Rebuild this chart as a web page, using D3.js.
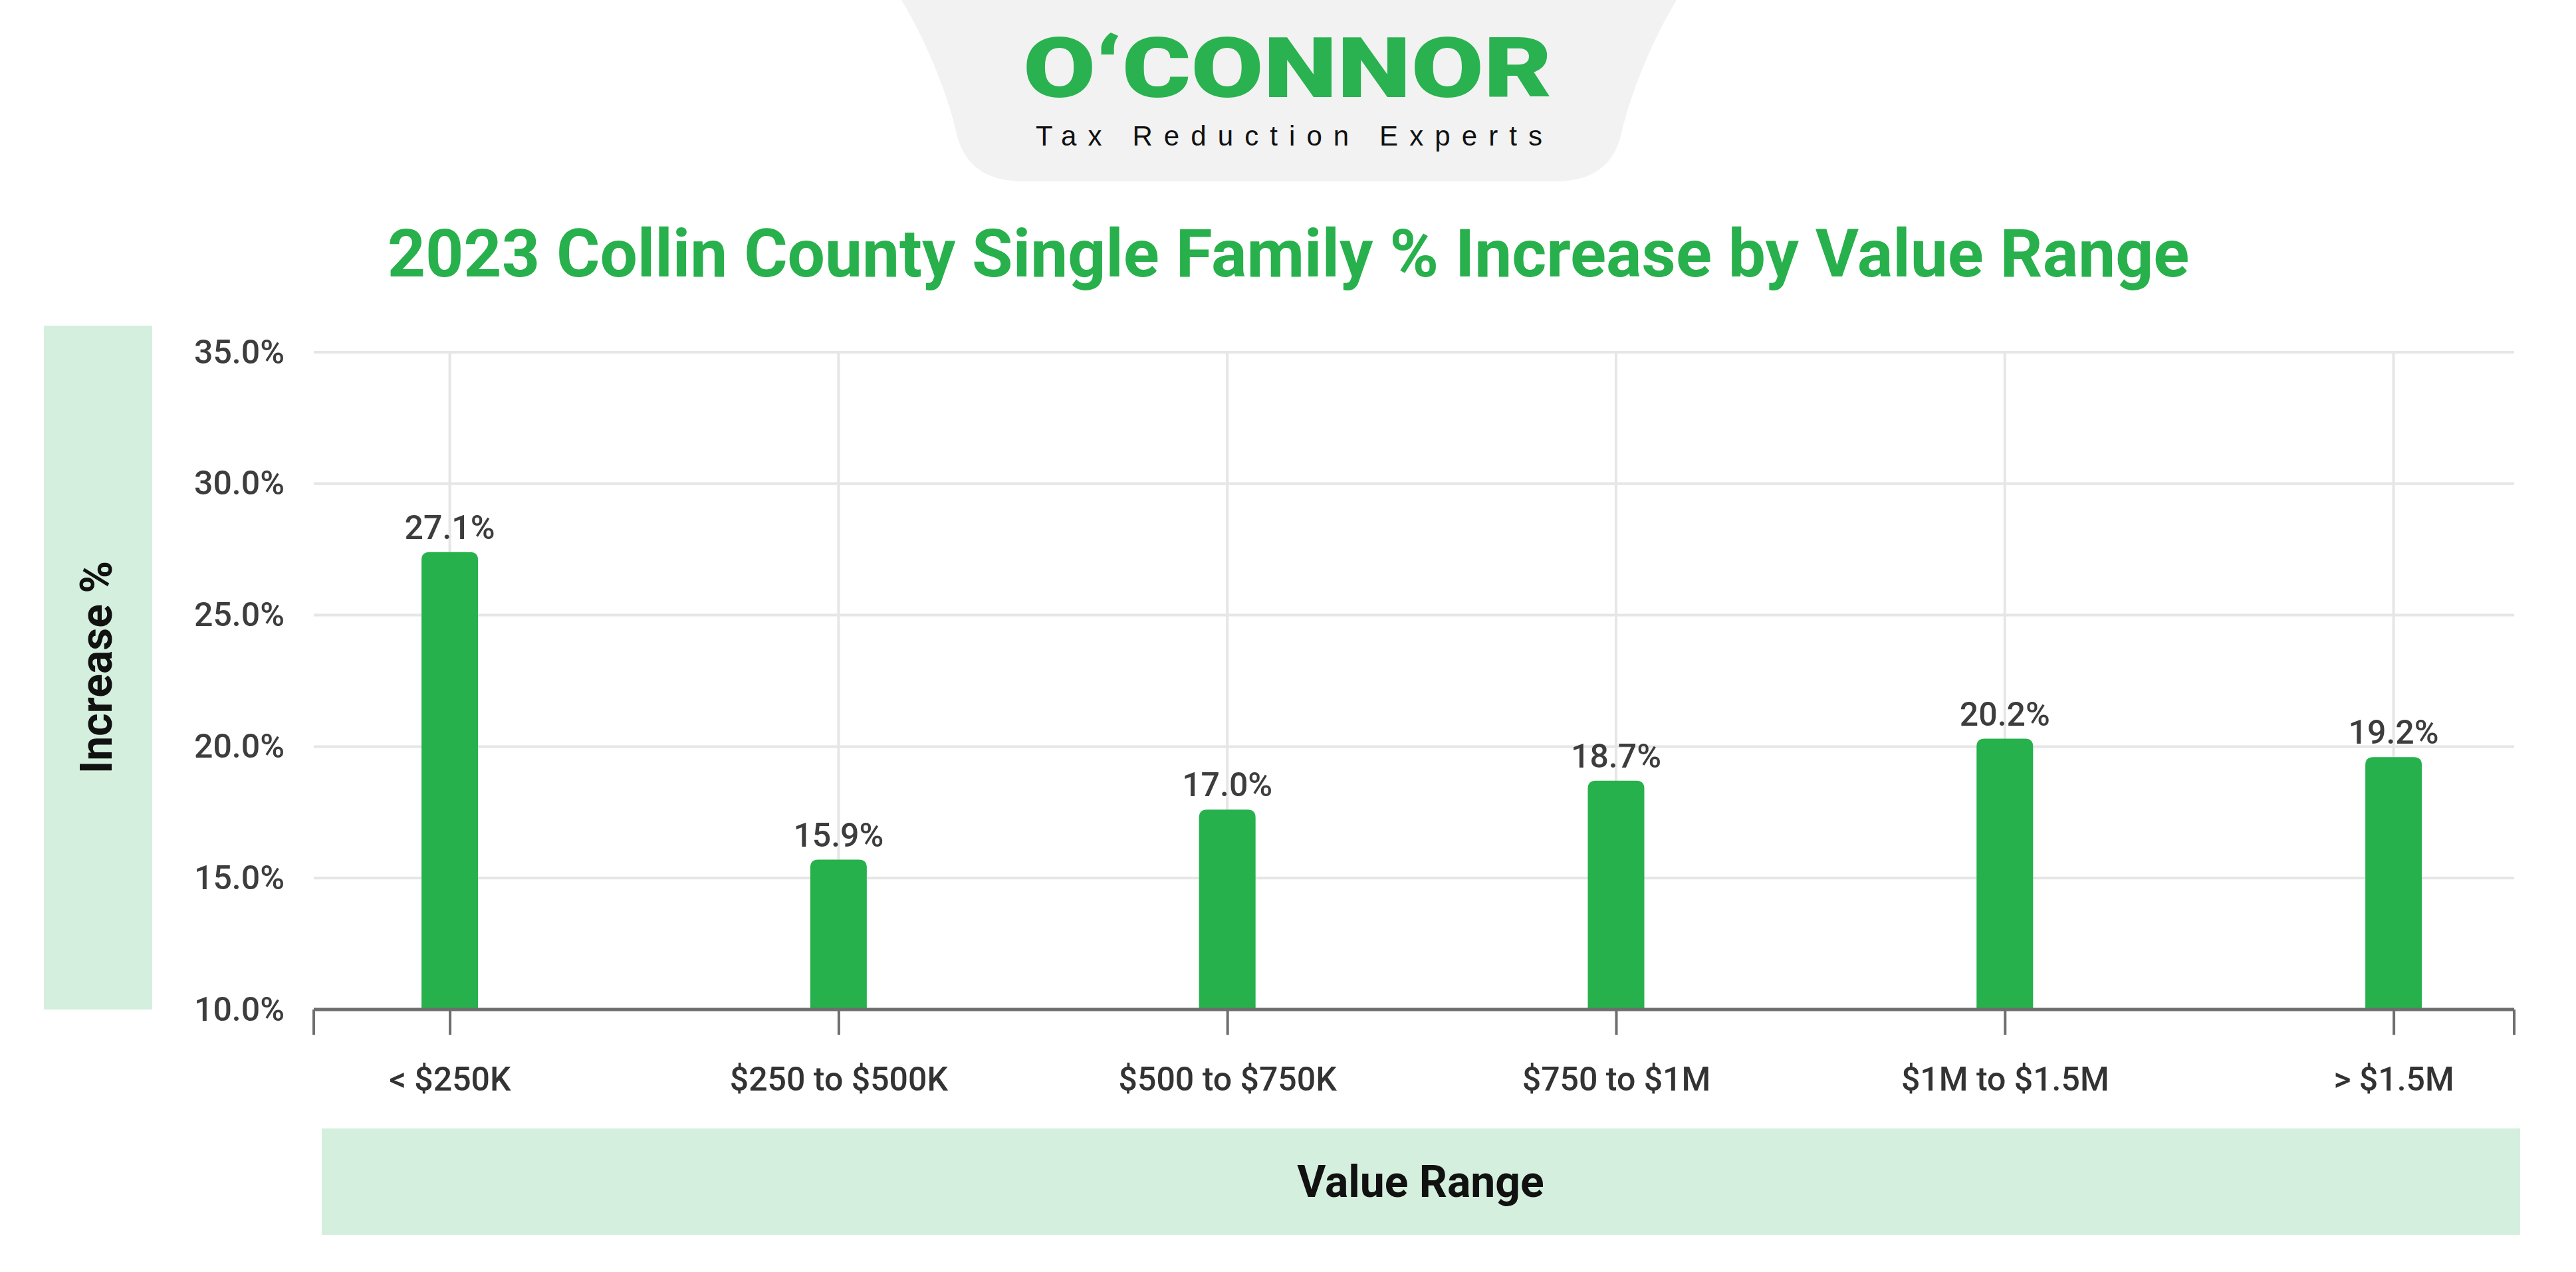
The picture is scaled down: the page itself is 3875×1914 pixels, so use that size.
<!DOCTYPE html>
<html>
<head>
<meta charset="utf-8">
<script src="https://cdn.jsdelivr.net/npm/d3@7/dist/d3.min.js"></script>
<style>
  html, body { margin: 0; padding: 0; background: #ffffff; }
  svg { display: block; }
</style>
</head>
<body>
<svg id="chart" width="3875" height="1914"></svg>
<script>
// ---- data ----
const categories = ["< $250K", "$250 to $500K", "$500 to $750K", "$750 to $1M", "$1M to $1.5M", "> $1.5M"];
const values = [27.4, 15.7, 17.6, 18.7, 20.3, 19.6];          // bar heights as drawn
const valueLabels = ["27.1%", "15.9%", "17.0%", "18.7%", "20.2%", "19.2%"]; // labels as printed
const yTicks = [10, 15, 20, 25, 30, 35];
const titleText = "2023 Collin County Single Family % Increase by Value Range";
const xAxisTitle = "Value Range";
const yAxisTitle = "Increase %";

// ---- layout ----
const W = 3875, H = 1914;
const plot = { left: 472, right: 3782, top: 530, bottom: 1519 };
const green = "#26b14c";
const lightGreen = "#d4efdd";
const gridColor = "#e6e6e6";
const axisColor = "#6e6e6e";
const textGray = "#3d3d3d";
const font = "Roboto, 'Noto Sans', sans-serif";

const svg = d3.select("#chart").attr("viewBox", `0 0 ${W} ${H}`);
svg.append("rect").attr("width", W).attr("height", H).attr("fill", "#fff");

// ---- logo header ----
svg.append("path")
  .attr("d", "M1356,0 C1398,70 1428,150 1440,205 Q1458,273 1540,273 L2340,273 Q2420,273 2438,205 C2450,150 2480,70 2522,0 Z")
  .attr("fill", "#f2f2f2");
svg.append("text")
  .attr("x", 1539).attr("y", 146)
  .attr("textLength", 796).attr("lengthAdjust", "spacingAndGlyphs")
  .attr("font-family", font).attr("font-weight", 900).attr("font-size", 126)
  .attr("fill", "#29b24f")
  .text("O\u2018CONNOR");
svg.append("text")
  .attr("x", 1558).attr("y", 219)
  .attr("textLength", 762).attr("lengthAdjust", "spacing")
  .attr("font-family", "'Liberation Sans', Arial, sans-serif").attr("font-size", 42)
  .attr("fill", "#111")
  .text("Tax Reduction Experts");

// ---- title ----
svg.append("text")
  .attr("x", 1938).attr("y", 416)
  .attr("text-anchor", "middle")
  .attr("font-family", font).attr("font-weight", 700).attr("font-size", 100)
  .attr("fill", "#27b04c")
  .text(titleText);

// ---- scales ----
const x = d3.scalePoint().domain(categories).range([plot.left, plot.right]).padding(0.33).align(0.53);
const y = d3.scaleLinear().domain([10, 35]).range([plot.bottom, plot.top]);

// ---- axis title boxes ----
svg.append("rect").attr("x", 66).attr("y", 490).attr("width", 163).attr("height", 1029).attr("fill", lightGreen);
svg.append("text")
  .attr("transform", `translate(145,1004) rotate(-90)`)
  .attr("text-anchor", "middle").attr("dominant-baseline", "central")
  .attr("font-family", font).attr("font-weight", 700).attr("font-size", 66)
  .attr("fill", "#111")
  .text(yAxisTitle);

svg.append("rect").attr("x", 484).attr("y", 1698).attr("width", 3307).attr("height", 160).attr("fill", lightGreen);
svg.append("text")
  .attr("x", 2137).attr("y", 1778)
  .attr("text-anchor", "middle").attr("dominant-baseline", "central")
  .attr("font-family", font).attr("font-weight", 700).attr("font-size", 66)
  .attr("fill", "#111")
  .text(xAxisTitle);

// ---- grid ----
const grid = svg.append("g");
grid.selectAll("line.h").data(yTicks.filter(d => d > 10)).join("line")
  .attr("x1", plot.left).attr("x2", plot.right)
  .attr("y1", d => y(d)).attr("y2", d => y(d))
  .attr("stroke", gridColor).attr("stroke-width", 4);
grid.selectAll("line.v").data(categories).join("line")
  .attr("x1", d => x(d)).attr("x2", d => x(d))
  .attr("y1", plot.top).attr("y2", plot.bottom)
  .attr("stroke", gridColor).attr("stroke-width", 4);

// ---- y axis ----
const yAxis = svg.append("g")
  .attr("transform", `translate(${plot.left},0)`)
  .call(d3.axisLeft(y).tickValues(yTicks).tickSize(0).tickPadding(44).tickFormat(d => d.toFixed(1) + "%"));
yAxis.select(".domain").remove();
yAxis.selectAll("text")
  .attr("font-family", font).attr("font-weight", 500).attr("font-size", 50)
  .attr("fill", textGray);

// ---- bars ----
const barW = 85, r = 12;
function topRounded(cx, yTop, yBot, w, rad) {
  const x0 = cx - w / 2, x1 = cx + w / 2;
  return `M${x0},${yBot} L${x0},${yTop + rad} Q${x0},${yTop} ${x0 + rad},${yTop} L${x1 - rad},${yTop} Q${x1},${yTop} ${x1},${yTop + rad} L${x1},${yBot} Z`;
}
svg.append("g").selectAll("path").data(categories).join("path")
  .attr("d", (d, i) => topRounded(x(d), y(values[i]), y(10), barW, r))
  .attr("fill", green);

// ---- data labels ----
svg.append("g").selectAll("text").data(categories).join("text")
  .attr("x", d => x(d))
  .attr("y", (d, i) => y(values[i]) - 20)
  .attr("text-anchor", "middle")
  .attr("font-family", font).attr("font-weight", 500).attr("font-size", 50)
  .attr("fill", textGray)
  .text((d, i) => valueLabels[i]);

// ---- x axis ----
const xAxis = svg.append("g")
  .attr("transform", `translate(0,${plot.bottom})`)
  .call(d3.axisBottom(x).tickSize(38).tickPadding(48));
xAxis.select(".domain").remove();
xAxis.selectAll(".tick line").attr("stroke", axisColor).attr("stroke-width", 4);
xAxis.selectAll("text")
  .attr("font-family", font).attr("font-weight", 500).attr("font-size", 50)
  .attr("fill", "#333");
// axis baseline and end ticks
svg.append("line")
  .attr("x1", plot.left).attr("x2", plot.right)
  .attr("y1", plot.bottom).attr("y2", plot.bottom)
  .attr("stroke", axisColor).attr("stroke-width", 5);
svg.selectAll("line.end").data([plot.left, plot.right]).join("line")
  .attr("x1", d => d).attr("x2", d => d)
  .attr("y1", plot.bottom).attr("y2", plot.bottom + 38)
  .attr("stroke", axisColor).attr("stroke-width", 4);
</script>
</body>
</html>
